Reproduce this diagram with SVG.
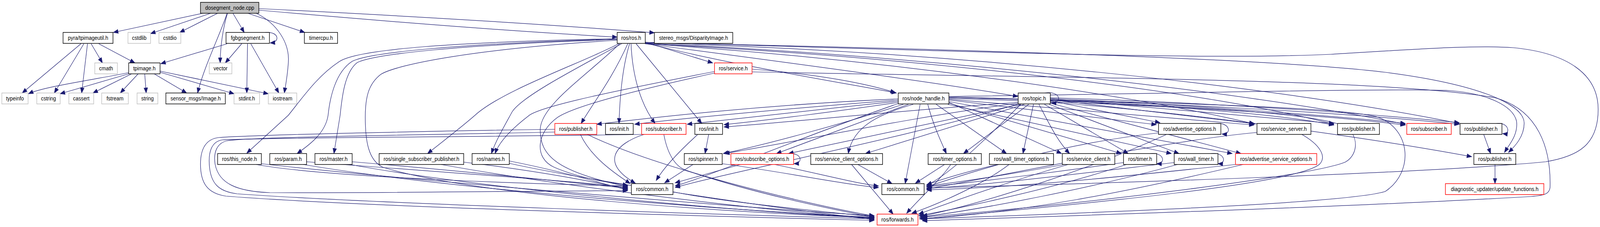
<svg xmlns="http://www.w3.org/2000/svg" width="4389" height="581" viewBox="0 0 4389 581" preserveAspectRatio="none">
<style>
:root{width:100vw;height:100vh;display:block}
.e{fill:none;stroke:#191970;stroke-width:1.25;marker-end:url(#a)}
rect{fill:#fff;stroke-width:1.5}
rect.k{stroke:#000}
rect.g{stroke:#bfbfbf}
rect.r{stroke:#ff0000}
rect.root{fill:#bfbfbf;stroke:#000}
text{font-family:"Liberation Sans",Arial,Helvetica,sans-serif;font-size:14px;text-anchor:middle;fill:#000}
</style>
<defs>
<marker id="a" markerUnits="userSpaceOnUse" markerWidth="14" markerHeight="10" refX="13" refY="5" orient="auto" overflow="visible"><path d="M0,0L13,5L0,10Z" fill="#191970" stroke="#191970" stroke-width="1"/></marker>
</defs>
<rect x="0" y="0" width="4389" height="581" style="fill:#fff;stroke:none"/>
<g id="edges">
<path class="e" d="M556,34 L311,83"/>
<path class="e" d="M578,34 L413,86"/>
<path class="e" d="M597,34 L493,83"/>
<path class="e" d="M623,34 C603,90 560,170 542,238"/>
<path class="e" d="M624,34 C612,70 604,120 604,161"/>
<path class="e" d="M639,34 L670,83"/>
<path class="e" d="M680,34 L836,83"/>
<path class="e" d="M703,34 C760,60 795,110 791,160 C788,200 782,225 780,238"/>
<path class="e" d="M710,26 C1000,50 1400,80 1693,95"/>
<path class="e" d="M710,22 C1100,40 1500,62 1795,84"/>
<path class="e" d="M222,112 L61,238"/>
<path class="e" d="M230,112 L149,238"/>
<path class="e" d="M240,112 L224,238"/>
<path class="e" d="M250,112 L281,161"/>
<path class="e" d="M271,112 L370,161"/>
<path class="e" d="M623,112 L441,163"/>
<path class="e" d="M663,112 L618,161"/>
<path class="e" d="M679,112 L677,238"/>
<path class="e" d="M688,112 L765,238"/>
<path class="e" d="M728,83 C765,80 770,108 741,110"/>
<path class="e" d="M353,186 C250,205 120,222 78,240"/>
<path class="e" d="M353,189 L165,240"/>
<path class="e" d="M361,189 L255,238"/>
<path class="e" d="M379,189 L330,238"/>
<path class="e" d="M397,189 L401,238"/>
<path class="e" d="M423,189 L512,238"/>
<path class="e" d="M439,185 L642,240"/>
<path class="e" d="M439,182 L736,240"/>
<path class="e" d="M1693,99 C1250,108 980,125 930,158 C870,195 830,250 791,295 L677,392"/>
<path class="e" d="M1693,100 C1250,112 1010,135 966,157 C920,185 905,250 900,295 C893,340 850,370 815,393"/>
<path class="e" d="M1693,101 C1260,115 1030,138 980,160 C945,185 938,250 933,295 L916,393"/>
<path class="e" d="M1693,103 C1300,125 1090,165 1045,190 C1010,215 1002,250 1002,300 C1002,360 1010,410 1050,428 C1300,500 2000,545 2398,557"/>
<path class="e" d="M1697,112 C1600,160 1380,230 1303,295 C1260,330 1210,365 1173,393"/>
<path class="e" d="M1705,112 C1550,190 1430,250 1405,286 C1385,320 1360,360 1348,393"/>
<path class="e" d="M1722,112 C1680,200 1630,260 1594,316"/>
<path class="e" d="M1727,112 C1705,180 1700,260 1698,316"/>
<path class="e" d="M1731,112 C1735,200 1760,270 1797,316"/>
<path class="e" d="M1745,112 L1925,316"/>
<path class="e" d="M1770,108 L1955,161"/>
<path class="e" d="M1770,110 C2000,165 2300,210 2459,238"/>
<path class="e" d="M1770,112 C2200,165 2600,215 2792,247"/>
<path class="e" d="M1770,112 C2400,150 3100,240 3440,317"/>
<path class="e" d="M1770,111 C2500,140 3400,230 3855,318"/>
<path class="e" d="M1770,110 C2600,130 3500,220 4003,316"/>
<path class="e" d="M1770,112 C2500,145 3300,230 3659,318"/>
<path class="e" d="M1770,109 C2600,125 3500,150 3800,185 C4050,215 4180,265 4181,315 C4181,350 4155,375 4138,390"/>
<path class="e" d="M1770,108 C2600,130 3300,155 3650,139 C3900,125 4050,115 4150,122 C4300,135 4384,190 4384,280 C4384,370 4330,400 4240,414 C3900,445 3000,470 2542,481"/>
<path class="e" d="M1700,112 C1600,200 1485,270 1482,330 C1480,400 1530,440 1722,478"/>
<path class="e" d="M1960,183 C1700,230 1490,270 1452,295 C1410,325 1370,360 1358,393"/>
<path class="e" d="M1960,187 C1750,230 1580,270 1530,300 C1470,340 1465,405 1520,428 C1600,460 1690,470 1722,474"/>
<path class="e" d="M2063,177 C2250,190 2380,215 2456,237"/>
<path class="e" d="M2063,184 C2900,200 3800,200 4100,250 C4220,280 4255,380 4252,480 C4250,495 4240,500 4200,503 C3700,530 3000,550 2530,565"/>
<path class="e" d="M2464,253 C2100,268 1800,300 1637,318"/>
<path class="e" d="M2464,256 C2200,275 1900,300 1741,318"/>
<path class="e" d="M2464,259 C2250,280 2000,305 1885,318"/>
<path class="e" d="M2464,262 C2300,285 2100,308 1986,319"/>
<path class="e" d="M2478,267 C2300,320 2100,370 1984,393"/>
<path class="e" d="M2492,267 L2130,393"/>
<path class="e" d="M2505,267 C2420,290 2340,320 2327,393"/>
<path class="e" d="M2524,267 L2483,470"/>
<path class="e" d="M2464,265 C2200,350 1950,450 1852,476"/>
<path class="e" d="M2545,267 C2560,320 2580,360 2596,393"/>
<path class="e" d="M2568,267 L2761,393"/>
<path class="e" d="M2603,262 L2912,393"/>
<path class="e" d="M2603,264 L3076,393"/>
<path class="e" d="M2600,267 L3213,393"/>
<path class="e" d="M2603,260 L3380,393"/>
<path class="e" d="M2603,256 L3172,319"/>
<path class="e" d="M2603,254 L3440,320"/>
<path class="e" d="M2603,252 C3100,265 3600,290 3855,320"/>
<path class="e" d="M2603,250 C3200,260 3700,290 4003,318"/>
<path class="e" d="M2603,250 C3200,262 3700,275 3780,300 C3870,330 3880,440 3800,490 C3700,520 3000,545 2530,560"/>
<path class="e" d="M2603,248 C3100,260 3500,290 3659,320"/>
<path class="e" d="M2603,247 C3200,240 3800,225 3980,232 C4080,240 4150,270 4160,310 C4165,345 4140,370 4127,390"/>
<path class="e" d="M2793,262 C2500,280 2200,310 1986,325"/>
<path class="e" d="M2793,264 C2500,300 2200,360 1988,393"/>
<path class="e" d="M2800,267 L2163,393"/>
<path class="e" d="M2810,267 L2374,393"/>
<path class="e" d="M2822,267 L2643,393"/>
<path class="e" d="M2835,267 L2806,393"/>
<path class="e" d="M2850,267 C2880,320 2900,360 2934,393"/>
<path class="e" d="M2865,267 L3095,393"/>
<path class="e" d="M2878,267 L3234,393"/>
<path class="e" d="M2881,264 L3404,393"/>
<path class="e" d="M2881,258 L3182,314"/>
<path class="e" d="M2881,255 L3443,317"/>
<path class="e" d="M2881,253 L3659,316"/>
<path class="e" d="M2881,252 C3300,270 3700,300 3855,316"/>
<path class="e" d="M2881,250 C3400,265 3800,295 4003,314"/>
<path class="e" d="M2881,262 C3300,290 3800,360 4037,401"/>
<path class="e" d="M2800,267 C2700,360 2600,450 2542,474"/>
<path class="e" d="M2881,257 C3300,275 3650,290 3700,330 C3730,360 3720,400 3690,415 C3600,450 3000,520 2530,556"/>
<path class="e" d="M2793,266 C2500,350 2000,440 1852,480"/>
<path class="e" d="M2866,238 C2910,232 2915,264 2884,264"/>
<path class="e" d="M3335,316 C3375,312 3380,345 3352,343"/>
<path class="e" d="M3178,340 C2900,370 2700,430 2542,478"/>
<path class="e" d="M3200,344 C3000,430 2700,520 2530,553"/>
<path class="e" d="M3448,339 C3200,360 2800,440 2542,484"/>
<path class="e" d="M3571,344 C3620,370 3640,400 3620,420 C3560,470 3000,520 2530,560"/>
<path class="e" d="M4105,316 C4140,312 4145,345 4122,342"/>
<path class="e" d="M4070,344 L4089,393"/>
<path class="e" d="M4101,421 L4101,470"/>
<path class="e" d="M703,421 C900,455 1500,472 1722,476"/>
<path class="e" d="M717,419 C1000,450 2000,530 2398,552"/>
<path class="e" d="M841,414 C1200,440 1600,465 1722,480"/>
<path class="e" d="M832,421 C1200,480 2000,540 2398,556"/>
<path class="e" d="M966,414 C1300,440 1600,470 1722,482"/>
<path class="e" d="M960,421 C1300,480 2000,540 2398,558"/>
<path class="e" d="M1272,415 C1500,440 1650,470 1722,484"/>
<path class="e" d="M1210,421 C1500,470 2000,530 2398,560"/>
<path class="e" d="M1397,412 C1550,440 1650,470 1722,486"/>
<path class="e" d="M1397,418 C1600,460 2100,530 2398,562"/>
<path class="e" d="M1901,421 L1823,468"/>
<path class="e" d="M1981,419 C2150,440 2300,470 2410,480"/>
<path class="e" d="M2031,421 L1852,468"/>
<path class="e" d="M2125,421 C2250,445 2350,470 2410,476"/>
<path class="e" d="M2160,393 C2200,389 2205,418 2178,419"/>
<path class="e" d="M2353,421 L2447,470"/>
<path class="e" d="M2336,421 L2450,548"/>
<path class="e" d="M2591,421 L2511,469"/>
<path class="e" d="M2608,421 C2580,460 2520,510 2487,546"/>
<path class="e" d="M2737,421 C2650,440 2580,460 2542,473"/>
<path class="e" d="M2768,421 C2700,470 2580,520 2501,546"/>
<path class="e" d="M2920,421 C2750,450 2600,470 2542,476"/>
<path class="e" d="M2930,421 C2750,470 2600,520 2520,548"/>
<path class="e" d="M3082,416 C2900,440 2650,470 2542,478"/>
<path class="e" d="M3090,421 C2900,480 2650,530 2520,552"/>
<path class="e" d="M3155,393 C3195,389 3198,420 3173,419"/>
<path class="e" d="M3221,416 C3000,440 2700,475 2542,482"/>
<path class="e" d="M3230,421 C3000,480 2700,535 2522,556"/>
<path class="e" d="M3322,393 C3362,389 3365,420 3341,419"/>
<path class="e" d="M3389,421 C3100,450 2800,480 2542,486"/>
<path class="e" d="M3410,421 C3100,490 2800,545 2522,560"/>
<path class="e" d="M1846,491 C2000,520 2300,545 2398,555"/>
<path class="e" d="M1522,331 C1200,335 700,345 600,352 C565,356 550,380 550,420 C550,470 570,495 620,502 C1000,530 2000,555 2398,564"/>
<path class="e" d="M1760,344 C1400,350 700,352 610,358 C580,362 570,390 575,430 C580,470 600,490 650,496 C1000,520 2000,550 2398,560"/>
<path class="e" d="M1522,338 C1200,345 700,350 625,360 C595,365 585,390 590,420 C600,470 650,490 740,493 C1000,495 1500,488 1722,488"/>
<path class="e" d="M1592,344 C1620,400 1680,440 1729,470"/>
<path class="e" d="M1611,344 C1800,430 2200,520 2398,553"/>
<path class="e" d="M1767,344 C1680,370 1650,420 1743,469"/>
<path class="e" d="M1821,344 C1830,390 1850,425 1880,435 C2050,490 2250,530 2398,556"/>
<path class="e" d="M1944,344 L1934,393"/>
<path class="e" d="M1913,345 C1860,390 1820,430 1800,462"/>
</g>
<g id="n1"><rect class="root" x="550" y="6" width="160" height="28"/><text x="630" y="25">dosegment_node.cpp</text></g>
<g id="n2"><rect class="k" x="173" y="83" width="137" height="28"/><text x="241.5" y="102">pyra/tpimageutil.h</text></g>
<g id="n3"><rect class="g" x="351" y="83" width="62" height="28"/><text x="382" y="102">cstdlib</text></g>
<g id="n4"><rect class="g" x="436" y="83" width="60" height="28"/><text x="466" y="102">cstdio</text></g>
<g id="n5"><rect class="k" x="620" y="83" width="119" height="28"/><text x="679.5" y="102">fgbgsegment.h</text></g>
<g id="n6"><rect class="k" x="835" y="83" width="91" height="28"/><text x="880.5" y="102">timercpu.h</text></g>
<g id="n7"><rect class="k" x="1693" y="83" width="77" height="28"/><text x="1731.5" y="102">ros/ros.h</text></g>
<g id="n8"><rect class="k" x="1795" y="83" width="215" height="28"/><text x="1902.5" y="102">stereo_msgs/DisparityImage.h</text></g>
<g id="n9"><rect class="g" x="260" y="161" width="62" height="28"/><text x="291" y="180">cmath</text></g>
<g id="n10"><rect class="k" x="353" y="161" width="86" height="28"/><text x="396" y="180">tpimage.h</text></g>
<g id="n11"><rect class="g" x="574" y="161" width="62" height="28"/><text x="605" y="180">vector</text></g>
<g id="n12"><rect class="r" x="1960" y="161" width="103" height="28"/><text x="2011.5" y="180">ros/service.h</text></g>
<g id="n13"><rect class="g" x="5" y="238" width="72" height="28"/><text x="41" y="257">typeinfo</text></g>
<g id="n14"><rect class="g" x="101" y="238" width="64" height="28"/><text x="133" y="257">cstring</text></g>
<g id="n15"><rect class="g" x="189" y="238" width="68" height="28"/><text x="223" y="257">cassert</text></g>
<g id="n16"><rect class="g" x="279" y="238" width="73" height="28"/><text x="315.5" y="257">fstream</text></g>
<g id="n17"><rect class="g" x="376" y="238" width="57" height="28"/><text x="404.5" y="257">string</text></g>
<g id="n18"><rect class="k" x="455" y="238" width="163" height="28"/><text x="536.5" y="257">sensor_msgs/Image.h</text></g>
<g id="n19"><rect class="g" x="642" y="238" width="70" height="28"/><text x="677" y="257">stdint.h</text></g>
<g id="n20"><rect class="g" x="736" y="238" width="78" height="28"/><text x="775" y="257">iostream</text></g>
<g id="n21"><rect class="k" x="2464" y="238" width="139" height="28"/><text x="2533.5" y="257">ros/node_handle.h</text></g>
<g id="n22"><rect class="k" x="2793" y="238" width="88" height="28"/><text x="2837" y="257">ros/topic.h</text></g>
<g id="n23"><rect class="r" x="1522" y="316" width="115" height="28"/><text x="1579.5" y="335">ros/publisher.h</text></g>
<g id="n24"><rect class="k" x="1661" y="316" width="76" height="28"/><text x="1699" y="335">ros/init.h</text></g>
<g id="n25"><rect class="r" x="1760" y="316" width="122" height="28"/><text x="1821" y="335">ros/subscriber.h</text></g>
<g id="n26"><rect class="k" x="1906" y="316" width="76" height="28"/><text x="1944" y="335">ros/init.h</text></g>
<g id="n27"><rect class="k" x="3178" y="316" width="171" height="28"/><text x="3263.5" y="335">ros/advertise_options.h</text></g>
<g id="n28"><rect class="k" x="3448" y="316" width="148" height="28"/><text x="3522" y="335">ros/service_server.h</text></g>
<g id="n29"><rect class="k" x="3669" y="316" width="115" height="28"/><text x="3726.5" y="335">ros/publisher.h</text></g>
<g id="n30"><rect class="r" x="3859" y="316" width="122" height="28"/><text x="3920" y="335">ros/subscriber.h</text></g>
<g id="n31"><rect class="k" x="4005" y="316" width="115" height="28"/><text x="4062.5" y="335">ros/publisher.h</text></g>
<g id="n32"><rect class="k" x="597" y="393" width="120" height="28"/><text x="657" y="412">ros/this_node.h</text></g>
<g id="n33"><rect class="k" x="740" y="393" width="101" height="28"/><text x="790.5" y="412">ros/param.h</text></g>
<g id="n34"><rect class="k" x="864" y="393" width="102" height="28"/><text x="915" y="412">ros/master.h</text></g>
<g id="n35"><rect class="k" x="1040" y="393" width="232" height="28"/><text x="1156" y="412">ros/single_subscriber_publisher.h</text></g>
<g id="n36"><rect class="k" x="1295" y="393" width="102" height="28"/><text x="1346" y="412">ros/names.h</text></g>
<g id="n37"><rect class="k" x="1877" y="393" width="104" height="28"/><text x="1929" y="412">ros/spinner.h</text></g>
<g id="n38"><rect class="r" x="2005" y="393" width="172" height="28"/><text x="2091" y="412">ros/subscribe_options.h</text></g>
<g id="n39"><rect class="k" x="2224" y="393" width="197" height="28"/><text x="2322.5" y="412">ros/service_client_options.h</text></g>
<g id="n40"><rect class="k" x="2546" y="393" width="146" height="28"/><text x="2619" y="412">ros/timer_options.h</text></g>
<g id="n41"><rect class="k" x="2714" y="393" width="176" height="28"/><text x="2802" y="412">ros/wall_timer_options.h</text></g>
<g id="n42"><rect class="k" x="2914" y="393" width="144" height="28"/><text x="2986" y="412">ros/service_client.h</text></g>
<g id="n43"><rect class="k" x="3082" y="393" width="91" height="28"/><text x="3127.5" y="412">ros/timer.h</text></g>
<g id="n44"><rect class="k" x="3221" y="393" width="120" height="28"/><text x="3281" y="412">ros/wall_timer.h</text></g>
<g id="n45"><rect class="r" x="3389" y="393" width="223" height="28"/><text x="3500.5" y="412">ros/advertise_service_options.h</text></g>
<g id="n46"><rect class="k" x="4043" y="393" width="115" height="28"/><text x="4100.5" y="412">ros/publisher.h</text></g>
<g id="n47"><rect class="k" x="1732" y="470" width="114" height="28"/><text x="1789" y="489">ros/common.h</text></g>
<g id="n48"><rect class="k" x="2419" y="470" width="116" height="28"/><text x="2477" y="489">ros/common.h</text></g>
<g id="n49"><rect class="r" x="3965" y="470" width="270" height="28"/><text x="4100" y="489">diagnostic_updater/update_functions.h</text></g>
<g id="n50"><rect class="r" x="2406" y="548" width="112" height="28"/><text x="2462" y="567">ros/forwards.h</text></g>
</svg>
